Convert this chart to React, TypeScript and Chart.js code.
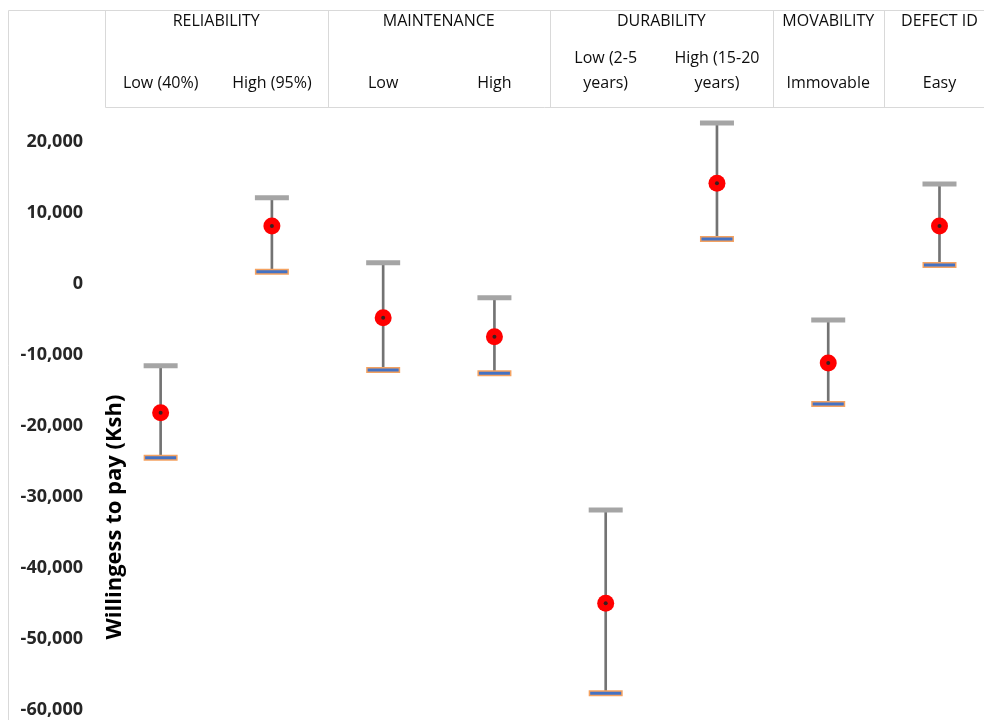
import React, { useEffect, useRef } from 'react';
import { Chart, registerables } from 'chart.js';

Chart.register(...registerables);

// ---- data ----
const categories: string[][] = [
  ['Low (40%)'],
  ['High (95%)'],
  ['Low'],
  ['High'],
  ['Low (2-5', 'years)'],
  ['High (15-20', 'years)'],
  ['Immovable'],
  ['Easy'],
];
const groupNames = ['RELIABILITY', 'MAINTENANCE', 'DURABILITY', 'MOVABILITY', 'DEFECT ID'];
const groupFirst = [0, 2, 4, 6, 7];
const groupLast = [1, 3, 5, 6, 7];
const highValues = [-11500, 12150, 3000, -1930, -31820, 22680, -5070, 14080];
const wtpValues = [-18120, 8170, -4740, -7420, -44960, 14200, -11130, 8170];
const lowValues = [-24460, 1730, -12110, -12580, -57630, 6340, -16900, 2680];
const yTickValues = [20000, 10000, 0, -10000, -20000, -30000, -40000, -50000, -60000];
const yMin = -60000;
const yMax = 25000;
const yTitle = 'Willingess to pay (Ksh)';

const FONT = "'Open Sans', 'Noto Sans', sans-serif";

const headerPlugin = {
  id: 'headerTable',
  afterDraw(chart: any) {
    const ctx = chart.ctx as CanvasRenderingContext2D;
    const xs = chart.scales.x;
    const px = (v: number) => xs.getPixelForValue(v);
    const W = chart.width;
    const H = chart.height;
    const line = (x1: number, y1: number, x2: number, y2: number) => {
      ctx.beginPath();
      ctx.moveTo(x1, y1);
      ctx.lineTo(x2, y2);
      ctx.stroke();
    };
    ctx.save();
    ctx.strokeStyle = '#d9d9d9';
    ctx.lineWidth = 1;
    // outer chart border
    line(8.5, 10.5, W, 10.5);
    line(8.5, 10.5, 8.5, H);
    // table frame
    const left = Math.round(px(-0.5)) + 0.5;
    line(left, 10.5, left, 107.5);
    line(left, 107.5, W, 107.5);
    groupLast.forEach((g) => {
      const xr = Math.round(px(g + 0.5)) + 0.5;
      line(xr, 10.5, xr, 107.5);
    });
    // group names
    ctx.fillStyle = '#0d0d0d';
    ctx.textAlign = 'center';
    ctx.textBaseline = 'middle';
    ctx.font = `16px ${FONT}`;
    groupNames.forEach((name, i) => {
      const cx = (px(groupFirst[i] - 0.5) + px(groupLast[i] + 0.5)) / 2;
      ctx.fillText(name, cx, 21);
    });
    // sub labels
    categories.forEach((lines, i) => {
      const cx = px(i);
      const n = lines.length;
      lines.forEach((t, j) => {
        const cy = 83 - (n - 1 - j) * 25;
        ctx.fillText(t, cx, cy);
      });
    });
    // y axis title
    ctx.translate(115, 517);
    ctx.rotate(-Math.PI / 2);
    ctx.font = `bold 22px ${FONT}`;
    ctx.fillStyle = '#000';
    ctx.fillText(yTitle, 0, 0);
    ctx.restore();
  },
};

export default function App() {
  const ref = useRef<HTMLCanvasElement>(null);
  useEffect(() => {
    if (!ref.current) return;
    const idx = categories.map((_, i) => i);
    const chart = new Chart(ref.current, {
      type: 'bar',
      data: {
        datasets: [
          {
            type: 'bar',
            data: idx.map((i) => ({ x: i, y: [lowValues[i], highValues[i]] })) as any,
            backgroundColor: '#737373',
            borderWidth: 0,
            barThickness: 2,
            grouped: false,
            order: 10,
          } as any,
          {
            type: 'scatter',
            data: idx.map((i) => ({ x: i, y: highValues[i] })),
            pointStyle: 'line',
            pointRadius: 17,
            borderWidth: 5,
            borderColor: '#a5a5a5',
            backgroundColor: '#a5a5a5',
            showLine: false,
            order: 8,
          } as any,
          {
            type: 'scatter',
            data: idx.map((i) => ({ x: i, y: lowValues[i] })),
            pointStyle: 'line',
            pointRadius: 17,
            borderWidth: 6,
            borderColor: '#f4a261',
            backgroundColor: '#f4a261',
            showLine: false,
            order: 7,
          } as any,
          {
            type: 'scatter',
            data: idx.map((i) => ({ x: i, y: lowValues[i] })),
            pointStyle: 'line',
            pointRadius: 15.5,
            borderWidth: 3,
            borderColor: '#4472c4',
            backgroundColor: '#4472c4',
            showLine: false,
            order: 6,
          } as any,
          {
            type: 'scatter',
            data: idx.map((i) => ({ x: i, y: wtpValues[i] })),
            pointStyle: 'circle',
            pointRadius: 8.5,
            borderWidth: 0,
            backgroundColor: '#ff0000',
            showLine: false,
            order: 2,
          } as any,
          {
            type: 'scatter',
            data: idx.map((i) => ({ x: i, y: wtpValues[i] })),
            pointStyle: 'circle',
            pointRadius: 2,
            borderWidth: 0,
            backgroundColor: '#3a2020',
            showLine: false,
            order: 1,
          } as any,
        ],
      },
      options: {
        responsive: false,
        animation: false,
        devicePixelRatio: 1,
        layout: { autoPadding: false, padding: { top: 106.5, bottom: 10, left: 0, right: 0 } },
        plugins: { legend: { display: false }, tooltip: { enabled: false } },
        scales: {
          x: {
            type: 'linear',
            min: -0.5,
            max: 7.4,
            offset: false,
            display: false,
          },
          y: {
            type: 'linear',
            min: yMin,
            max: yMax,
            grid: { display: false, drawTicks: false },
            border: { display: false },
            afterFit: (s: any) => {
              s.width = 105;
              s.paddingTop = 0;
              s.paddingBottom = 0;
            },
            afterBuildTicks: (s: any) => {
              s.ticks = yTickValues.map((v) => ({ value: v }));
            },
            ticks: {
              padding: 22,
              color: '#262626',
              font: { family: FONT, size: 18, weight: 'bold', lineHeight: 1 },
              callback: (v: any) => Number(v).toLocaleString('en-US'),
            },
          },
        },
      } as any,
      plugins: [headerPlugin],
    });
    return () => chart.destroy();
  }, []);
  return (
    <div style={{ position: 'absolute', left: 0, top: 0, width: 984, height: 720, background: '#fff' }}>
      <canvas ref={ref} width={984} height={720} style={{ display: 'block' }} />
    </div>
  );
}
